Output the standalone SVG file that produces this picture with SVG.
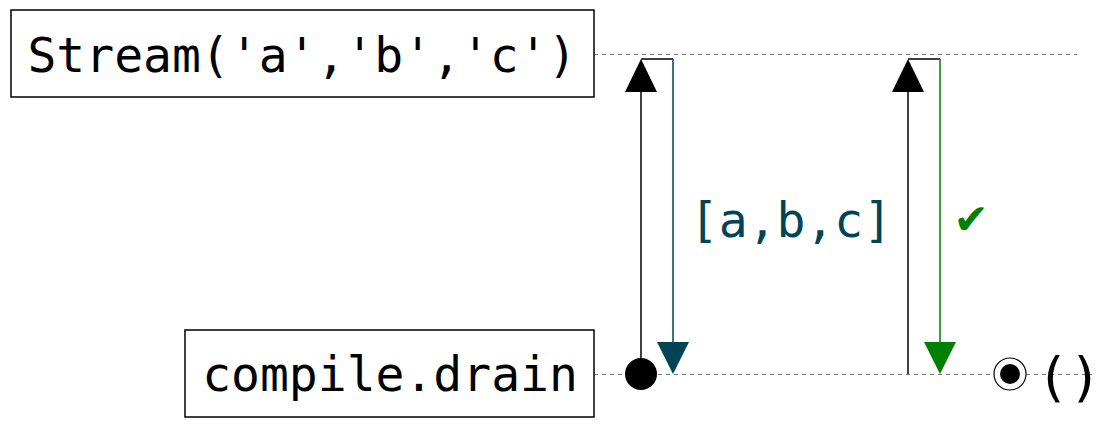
<svg xmlns="http://www.w3.org/2000/svg" width="1109" height="428" viewBox="0 0 1109 428">
<style>
.box{fill:#fff;stroke:#000;stroke-width:1.5}
.lbl{font-family:"DejaVu Sans Mono",monospace;font-size:48px;fill:#000}
.guide{stroke:#777;stroke-width:1;stroke-dasharray:4,4;fill:none}
.ln{fill:none;stroke-width:1.5}
</style>
<g id="guides">
<line class="guide" x1="594" y1="54.5" x2="1077" y2="54.5"/>
<line class="guide" x1="594" y1="374.5" x2="1092" y2="374.5"/>
</g>
<g id="node-stream">
<rect class="box" x="11" y="10" width="583" height="87"/>
<text class="lbl" x="302" y="72" text-anchor="middle">Stream('a','b','c')</text>
</g>
<g id="node-drain">
<rect class="box" x="185" y="330" width="409" height="87"/>
<text class="lbl" x="390" y="391" text-anchor="middle">compile.drain</text>
</g>
<g id="connectors">
<line class="ln" stroke="#000" x1="641" y1="374" x2="641" y2="90"/>
<polygon points="641,59 625,92 657,92" fill="#000"/>
<circle cx="641" cy="374" r="16" fill="#000"/>
<polyline class="ln" stroke="#000" points="641,59 673,59"/>
<line class="ln" stroke="#004455" x1="673" y1="59" x2="673" y2="344"/>
<polygon points="673,374 657,342 689,342" fill="#004455"/>
<text x="791" y="237" text-anchor="middle" font-family="DejaVu Sans Mono,monospace" font-size="48" fill="#004455">[a,b,c]</text>
<line class="ln" stroke="#000" x1="908" y1="374" x2="908" y2="90"/>
<polygon points="908,59 892,92 924,92" fill="#000"/>
<polyline class="ln" stroke="#000" points="908,59 940,59"/>
<line class="ln" stroke="#008000" x1="940" y1="59" x2="940" y2="344"/>
<polygon points="940,374 924,342 956,342" fill="#008000"/>
<text x="971" y="234" text-anchor="middle" font-family="DejaVu Sans,sans-serif" font-size="42" fill="#008000">✔</text>
<circle cx="1010" cy="374" r="16" fill="#fff" stroke="#000" stroke-width="1.2"/>
<circle cx="1010" cy="374" r="10" fill="#000"/>
<text x="1069" y="396" text-anchor="middle" font-family="DejaVu Sans Mono,monospace" font-size="54" fill="#000">()</text>
</g>
</svg>
